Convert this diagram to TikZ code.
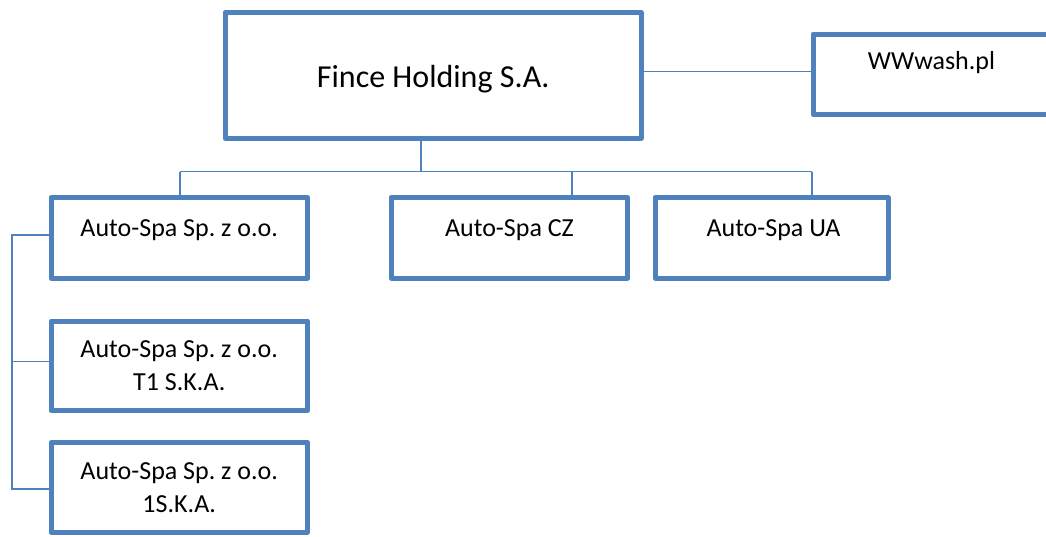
\documentclass[tikz,border=0pt]{standalone}
\usepackage{fontspec}
\setmainfont{Carlito}
\frenchspacing
\definecolor{accent}{RGB}{79,129,189}
\tikzset{
  box/.style={draw=accent, line width=5pt, line join=round, fill=white, inner sep=0pt},
  conn/.style={draw=accent, line width=1.5pt},
  txt/.style={inner sep=0pt, anchor=base, align=center, font=\fontsize{26}{33}\selectfont\frenchspacing},
  bigtxt/.style={inner sep=0pt, anchor=base, font=\fontsize{32}{38}\selectfont\frenchspacing}
}
\begin{document}
\begin{tikzpicture}[x=1pt,y=-1pt]
\useasboundingbox (0,0) rectangle (1046,536);
\clip (0,0) rectangle (1046,536);
\fill[white] (0,0) rectangle (1046,536);
% boxes
\node[box, minimum width=416, minimum height=125.5] (main) at (433,75.25) {};
\node[box, minimum width=237, minimum height=80] (ww) at (931.5,74) {};
\node[box, minimum width=256.5, minimum height=80.5] (b1) at (179.25,237.75) {};
\node[box, minimum width=236.5, minimum height=80.5] (cz) at (509.25,237.75) {};
\node[box, minimum width=233, minimum height=80.5] (ua) at (771.5,237.75) {};
\node[box, minimum width=256.5, minimum height=89.5] (t1) at (179.25,365.75) {};
\node[box, minimum width=256.5, minimum height=89.5] (s1) at (179.25,487.25) {};
% texts
\node[bigtxt] (maint) at (433.3,87.3) {Fince Holding S.A.};
\node[txt] (wwt) at (931.5,69.3) {WWwash.pl};
\node[txt] (b1t) at (179.25,236) {Auto-Spa Sp. z o.o.};
\node[txt] (czt) at (509.5,236) {Auto-Spa CZ};
\node[txt] (uat) at (773.5,236) {Auto-Spa UA};
\node[txt] (t1t) at (179.25,390.7) {Auto-Spa Sp. z o.o.\\T1 S.K.A.};
\node[txt] (s1t) at (179.25,512.7) {Auto-Spa Sp. z o.o.\\1S.K.A.};
% connector coordinates
\coordinate (mdrop) at (421,140.5);
\coordinate (bus) at (421,171.5);
\coordinate (busl) at (180,171.5);
\coordinate (busc) at (572,171.5);
\coordinate (busr) at (812,171.5);
\coordinate (wwl) at (643.5,71.7);
\coordinate (lft) at (12,235);
\coordinate (lft2) at (12,361.7);
\coordinate (lft3) at (12,489);
% connectors
\draw[conn] (wwl) -- (wwl -| ww.west);
\draw[conn] (mdrop) -- (bus);
\draw[conn] (busl) -- (busr);
\draw[conn] (busl) -- (busl |- b1.north);
\draw[conn] (busc) -- (busc |- cz.north);
\draw[conn] (busr) -- (busr |- ua.north);
\draw[conn] (lft -| b1.west) -- (lft) -- (lft3) -- (lft3 -| s1.west);
\draw[conn] (lft2) -- (lft2 -| t1.west);
\end{tikzpicture}
\end{document}
